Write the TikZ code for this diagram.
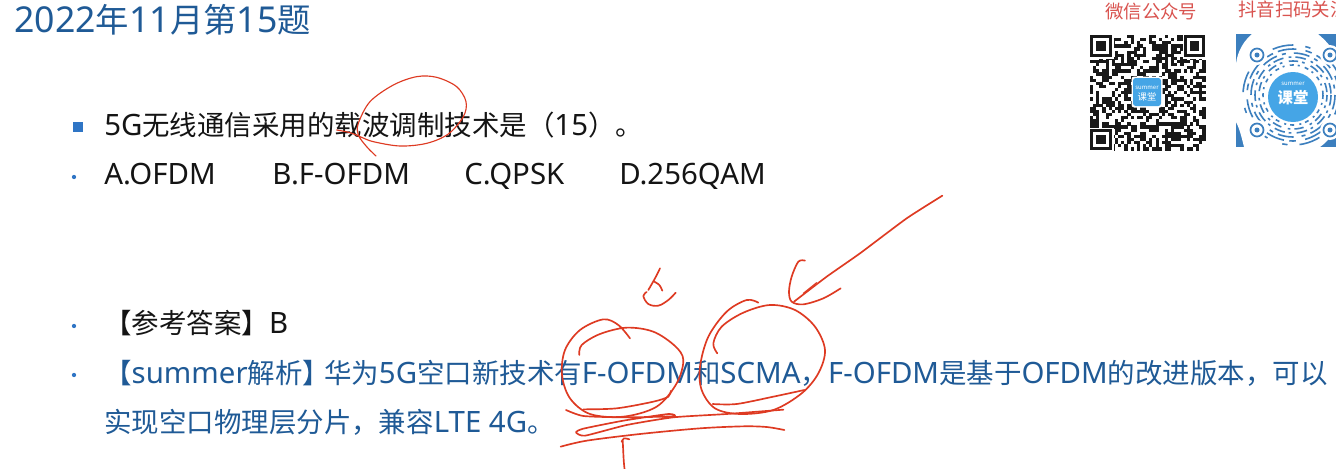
\documentclass[tikz,border=0pt]{standalone}
\usepackage{fontspec}
\setmainfont{Noto Sans CJK SC}
\newfontfamily\lat[Scale=1.07]{Noto Sans}
\newcommand{\La}[1]{{\lat #1}}
\definecolor{titleblue}{HTML}{1F5A96}
\definecolor{bulletblue}{HTML}{2F75C5}
\definecolor{inkred}{HTML}{DE3A22}
\definecolor{labelred}{HTML}{D9534F}
\definecolor{codeblue}{HTML}{3C7FBE}
\definecolor{logoblue}{HTML}{45A5E6}
\tikzset{
  titletext/.style={anchor=base west,inner sep=0pt,text=titleblue,font=\fontsize{25}{28}\selectfont},
  bodytext/.style={anchor=base west,inner sep=0pt,text=black!92,font=\fontsize{20.6}{24}\selectfont},
  answertext/.style={anchor=base west,inner sep=0pt,text=titleblue,font=\fontsize{20.6}{24}\selectfont},
  redlabel/.style={anchor=base west,inner sep=0pt,text=labelred,font=\fontsize{13.8}{16}\selectfont},
  ink/.style={draw=inkred,line width=0.85pt,line cap=round,line join=round},
  inkthick/.style={ink,line width=1.25pt},
  smallbullet/.style={circle,fill=bulletblue,inner sep=0pt,minimum size=3.2pt},
  squarebullet/.style={rectangle,fill=bulletblue,inner sep=0pt,minimum size=8pt},
  qrfill/.style={fill=black!90,draw=none},
  dyarc/.style={draw=codeblue,line width=1.2pt}
}
\begin{document}
\begin{tikzpicture}[x=0.75pt,y=-0.75pt]
\useasboundingbox (0,0) rectangle (1336,468);
\clip (0,0) rectangle (1336,468);
\fill[white] (0,0) rectangle (1336,468);
\node[titletext] (title) at (14,32) {\La{2022}年\La{11}月第\La{15}题};
\node[squarebullet] (b1) at (78,127) {};
\node[bodytext] (q) at (104,135) {\La{5G}无线通信采用的载波调制技术是（\La{15}）。};
\node[smallbullet] (b2) at (74,177) {};
\node[bodytext] (oa) at (104,184) {\La{A.OFDM}};
\node[bodytext] (ob) at (272,184) {\La{B.F-OFDM}};
\node[bodytext] (oc) at (464,184) {\La{C.QPSK}};
\node[bodytext] (od) at (619,184) {\La{D.256QAM}};
\node[smallbullet] (b3) at (74,326) {};
\node[bodytext] (ans) at (104,333) {【参考答案】\La{B}};
\node[smallbullet] (b4) at (74,375) {};
\node[answertext] (ex1) at (104,383) {【\La{summer}解析】\hspace{-4.5pt}华为\La{5G}空口新技术有\La{F-OFDM}和\La{SCMA}，\La{F-OFDM}是基于\La{OFDM}的改进版本，可以};
\node[answertext] (ex2) at (104,432) {实现空口物理层分片，兼容\La{LTE 4G}。};
\node[redlabel] (wx) at (1105,18) {微信公众号};
\node[redlabel] (dy) at (1238,16) {抖音扫码关注};
% QR code
\pgfmathsetseed{4711}
\foreach \i in {0,...,36}{
  \foreach \j in {0,...,36}{
    \pgfmathtruncatemacro{\qrbit}{rnd<0.52 ? 1 : 0}
    \ifnum\qrbit=1
      \fill[qrfill] ({1090+\i*3.12},{35+\j*3.12}) rectangle ++(3.2,3.2);
    \fi
  }
}
\foreach \fx/\fy in {1090/35,1183.6/35,1090/128.6}{
  \fill[white] (\fx-1,\fy-1) rectangle ++(24.8,24.8);
  \fill[qrfill] (\fx,\fy) rectangle ++(21.8,21.8);
  \fill[white] (\fx+3.1,\fy+3.1) rectangle ++(15.6,15.6);
  \fill[qrfill] (\fx+6.2,\fy+6.2) rectangle ++(9.4,9.4);
}
\fill[white,rounded corners=2pt] (1131.5,76.5) rectangle (1162.5,107.5);
\fill[logoblue,rounded corners=2pt] (1133,78) rectangle (1161,106);
\node[inner sep=0pt,text=white,font=\fontsize{4.5}{5}\selectfont] (qrs) at (1147,88) {summer};
\node[inner sep=0pt,text=white,font=\fontsize{7}{8}\selectfont] (qrk) at (1147,97) {课堂};
% Douyin code
\fill[codeblue] (1236,34) rectangle (1336,147);
\fill[white] (1252,34) .. controls (1240,44) and (1236,58) .. (1236,66) -- (1236,122) .. controls (1238,126) and (1240,130) .. (1244,147) -- (1320,147) .. controls (1330,140) and (1336,130) .. (1336,120) -- (1336,55) .. controls (1330,45) and (1325,40) .. (1318,34) -- cycle;
\foreach \r/\da/\db/\dc/\dd/\ph in {30/3/3/1.5/4/0, 34/7/3/2/5/2, 38/2/3/8/4/5, 42/12/4/3/6/1, 46/5/4/14/7/8, 50/16/9/4/12/3}{
  \draw[dyarc,dash pattern=on \da pt off \db pt on \dc pt off \dd pt,dash phase=\ph pt] (1293,95) circle (\r);
}
\fill[logoblue] (1293,97) circle (25);
\node[inner sep=0pt,text=white,font=\fontsize{4.5}{5}\selectfont] (dys) at (1293,84) {summer};
\node[inner sep=0pt,text=white,font=\bfseries\fontsize{11.5}{12}\selectfont] (dyk) at (1293,98) {课堂};
\foreach \cx/\cy in {1257/55,1257/130,1330/130,1330/55}{
  \fill[white] (\cx,\cy) circle (10);
  \draw[codeblue,line width=1.3pt] (\cx,\cy) circle (6.5);
  \fill[codeblue] (\cx,\cy) circle (2.5);
}
% ink, first annotation
\begin{scope}[shift={(0,60)},x=0.25pt,y=-0.25pt]
\draw[ink] plot[smooth,tension=0.55] coordinates {(1010,210) (1050,218) (1085,232) (1120,245) (1200,258) (1280,250) (1345,222) (1390,170) (1398,125) (1370,80) (1310,52) (1250,50) (1180,75) (1110,125) (1075,190) (1075,225) (1100,260) (1128,288)};
\end{scope}
% ink over the explanation
\begin{scope}[shift={(540,190)},x=0.25pt,y=-0.25pt]
\draw[inkthick] plot[smooth,tension=0.55] coordinates {(118,495) (125,465) (180,432) (260,413) (340,425) (405,468) (430,510) (410,580) (350,650) (250,680) (150,672) (90,625) (66,555) (75,480) (120,420) (190,388) (235,405) (270,445)};
\draw[inkthick] plot[smooth,tension=0.5] coordinates {(130,658) (230,655) (340,635) (385,620) (392,603)};
\draw[inkthick] plot[smooth,tension=0.55] coordinates {(532,490) (520,460) (545,410) (610,368) (690,345) (765,360) (825,410) (855,480) (835,550) (785,610) (700,660) (600,672) (525,655) (485,600) (480,530) (505,440) (560,365) (620,330) (655,338)};
\draw[inkthick] plot[smooth,tension=0.5] coordinates {(518,642) (590,642) (700,620) (793,600)};
\draw[inkthick] plot[smooth,tension=0.35] coordinates {(78,660) (130,678) (250,682) (400,679) (385,672) (250,692) (130,716) (108,727) (135,737) (260,705) (400,682) (560,672) (730,659)};
\draw[inkthick] plot[smooth,tension=0.5] coordinates {(62,770) (140,752) (300,732) (480,715) (610,709) (680,711) (733,720)};
\draw[inkthick] plot[smooth,tension=0.5] coordinates {(245,755) (252,745) (268,748)};
\draw[inkthick] (248,752) .. controls (250,780) and (250,810) .. (254,840);
\draw[inkthick] plot[smooth,tension=0.5] coordinates {(360,235) (345,265) (325,300)};
\draw[inkthick] plot[smooth,tension=0.5] coordinates {(343,275) (358,285) (367,302)};
\draw[inkthick] plot[smooth,tension=0.6] coordinates {(320,306) (310,318) (325,342) (355,347) (385,330) (407,308)};
\draw[inkthick] plot[smooth,tension=0.3] coordinates {(1207,17) (1100,85) (960,190) (860,260) (762,335)};
\draw[inkthick] plot[smooth,tension=0.55] coordinates {(795,212) (775,215) (755,260) (747,305) (755,335) (790,343) (850,325) (902,295)};
\draw[ink] (790,310) -- (830,278);
\end{scope}
\end{tikzpicture}
\end{document}
